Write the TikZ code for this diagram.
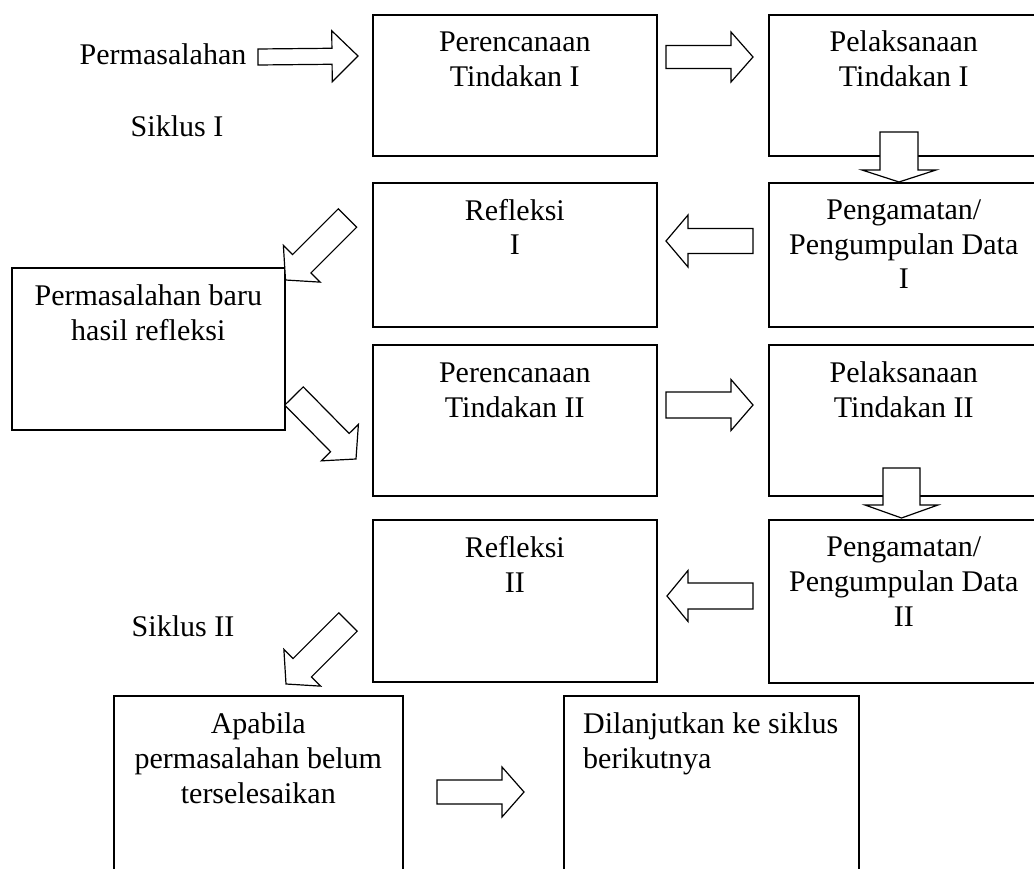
\documentclass[tikz,border=0pt]{standalone}
\usepackage{fontspec}
\setmainfont{Liberation Serif}
\usetikzlibrary{calc}

% block arrow: tail, tip, half shaft width, half head width, head length
\newcommand{\blockarrow}[5]{%
	\coordinate (ba-base) at ($(#2)!#5!(#1)$);
	\draw [blockarr] ($(#1)!#3!90:(#2)$) -- ($(ba-base)!#3!-90:(#1)$) -- ($(ba-base)!#4!-90:(#1)$) -- (#2) -- ($(ba-base)!#4!90:(#1)$) -- ($(ba-base)!#3!90:(#1)$) -- ($(#1)!#3!-90:(#2)$) -- cycle;
}

\begin{document}
\begin{tikzpicture}[x=1pt,y=-1pt,
	box/.style={draw, line width=1.6pt, rectangle, anchor=north west, inner sep=0pt},
	txt/.style={anchor=base, align=center, inner sep=0pt, font=\fontsize{30}{35}\selectfont},
	blockarr/.style={draw, line width=1.2pt, fill=white, line join=miter}]
	\useasboundingbox (0,0) rectangle (1034,869);
	\clip (0,0) rectangle (1034,869);
	
	% boxes
	\node [box, minimum width=284, minimum height=141] (plan1) at (372,14) {};
	\node [box, minimum width=270, minimum height=141] (pelak1) at (768,14) {};
	\node [box, minimum width=284, minimum height=144] (refl1) at (372,182) {};
	\node [box, minimum width=270, minimum height=144] (amat1) at (768,182) {};
	\node [box, minimum width=273, minimum height=162] (baru) at (11,267) {};
	\node [box, minimum width=284, minimum height=151] (plan2) at (372,344) {};
	\node [box, minimum width=270, minimum height=151] (pelak2) at (768,344) {};
	\node [box, minimum width=284, minimum height=162] (refl2) at (372,519) {};
	\node [box, minimum width=270, minimum height=163] (amat2) at (768,519) {};
	\node [box, minimum width=289, minimum height=200] (apabila) at (113,695) {};
	\node [box, minimum width=295, minimum height=200] (lanjut) at (563,695) {};
	
	% texts (base = last line)
	\node [txt] (plan1-t) at ($(plan1.north)+(0,73)$) {Perencanaan\\Tindakan I};
	\node [txt] (pelak1-t) at ($(pelak1.north)+(0,73)$) {Pelaksanaan\\Tindakan I};
	\node [txt] (refl1-t) at ($(refl1.north)+(0,73)$) {Refleksi\\I};
	\node [txt] (amat1-t) at ($(amat1.north)+(0,107)$) {Pengamatan/\\Pengumpulan Data\\I};
	\node [txt] (baru-t) at ($(baru.north)+(0,73)$) {Permasalahan baru\\hasil refleksi};
	\node [txt] (plan2-t) at ($(plan2.north)+(0,73)$) {Perencanaan\\Tindakan II};
	\node [txt] (pelak2-t) at ($(pelak2.north)+(0,73)$) {Pelaksanaan\\Tindakan II};
	\node [txt] (refl2-t) at ($(refl2.north)+(0,73)$) {Refleksi\\II};
	\node [txt] (amat2-t) at ($(amat2.north)+(0,107)$) {Pengamatan/\\Pengumpulan Data\\II};
	\node [txt] (apabila-t) at ($(apabila.north)+(0,108)$) {Apabila\\permasalahan belum\\terselesaikan};
	\node [txt, anchor=base west, align=left] (lanjut-t) at ($(lanjut.north west)+(20,73)$) {Dilanjutkan ke siklus\\berikutnya};
	\node [txt] (masalah) at (163,65) {Permasalahan};
	\node [txt] (siklus1) at (177,137) {Siklus I};
	\node [txt] (siklus2) at (183,636) {Siklus II};
	
	% arrow ends
	\coordinate (a1-s) at (258,57);   \coordinate (a1-e) at (358,56);
	\coordinate (a2-s) at (666,57);   \coordinate (a2-e) at (753,57);
	\coordinate (a3-s) at (899,132);  \coordinate (a3-e) at (899,182);
	\coordinate (a4-s) at (753,241);  \coordinate (a4-e) at (666,241);
	\coordinate (a5-s) at (347.5,218); \coordinate (a5-e) at (285.5,280);
	\coordinate (a6-s) at (294,396);  \coordinate (a6-e) at (356,459);
	\coordinate (a7-s) at (666,405);  \coordinate (a7-e) at (753,405);
	\coordinate (a8-s) at (901.5,468); \coordinate (a8-e) at (901.5,518);
	\coordinate (a9-s) at (753,596);  \coordinate (a9-e) at (667,596);
	\coordinate (a10-s) at (348,622); \coordinate (a10-e) at (286,684);
	\coordinate (a11-s) at (437,792); \coordinate (a11-e) at (524,792);
	
	% arrows
	\blockarrow{a1-s}{a1-e}{8pt}{25.5pt}{26pt}
	\blockarrow{a2-s}{a2-e}{11.5pt}{25pt}{22pt}
	\blockarrow{a3-s}{a3-e}{19pt}{37pt}{12pt}
	\blockarrow{a4-s}{a4-e}{12.5pt}{26pt}{22pt}
	\blockarrow{a5-s}{a5-e}{13pt}{26pt}{23pt}
	\blockarrow{a6-s}{a6-e}{13pt}{26pt}{23pt}
	\blockarrow{a7-s}{a7-e}{13pt}{25.5pt}{22pt}
	\blockarrow{a8-s}{a8-e}{18.5pt}{36.5pt}{13pt}
	\blockarrow{a9-s}{a9-e}{13pt}{25.5pt}{21pt}
	\blockarrow{a10-s}{a10-e}{13pt}{26pt}{23pt}
	\blockarrow{a11-s}{a11-e}{12pt}{25pt}{22pt}
\end{tikzpicture}
\end{document}
